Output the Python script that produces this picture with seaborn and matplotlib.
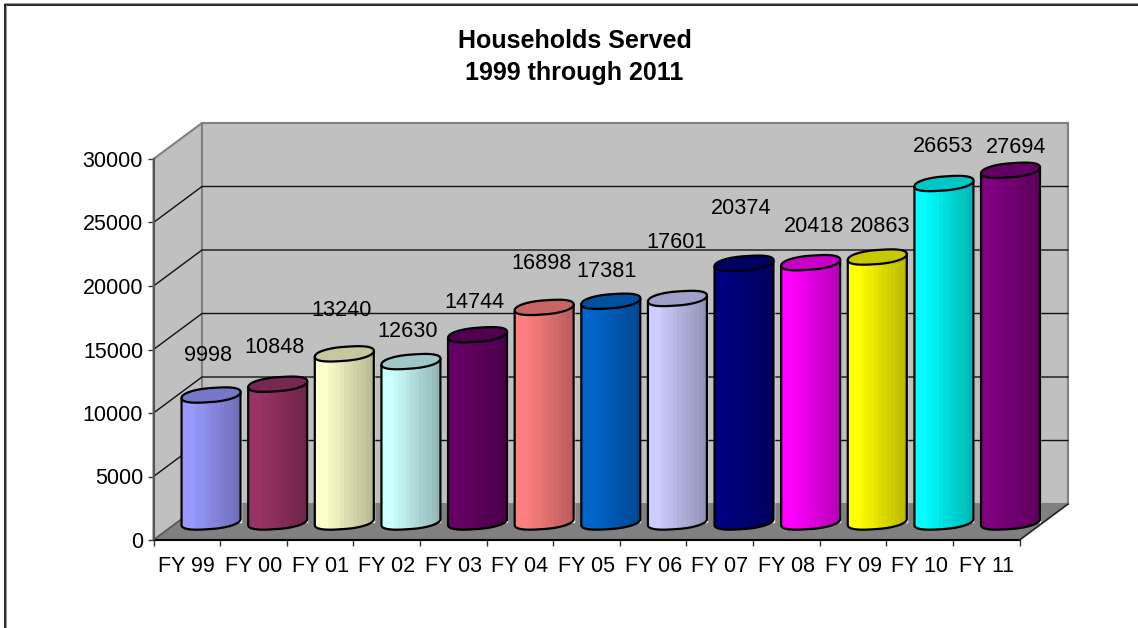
import numpy as np
import pandas as pd
import matplotlib
matplotlib.use("Agg")
import matplotlib.pyplot as plt
from matplotlib.lines import Line2D
from matplotlib.patches import Polygon
from matplotlib.colors import to_rgb
import seaborn as sns

sns.set_theme(style="white")
plt.rcParams["font.family"] = ["Liberation Sans", "DejaVu Sans"]

# --- data ---
years = ["FY 99", "FY 00", "FY 01", "FY 02", "FY 03", "FY 04", "FY 05",
         "FY 06", "FY 07", "FY 08", "FY 09", "FY 10", "FY 11"]
households = [9998, 10848, 13240, 12630, 14744, 16898, 17381,
              17601, 20374, 20418, 20863, 26653, 27694]
y_ticks = [0, 5000, 10000, 15000, 20000, 25000, 30000]

# --- styles ---
bar_colors = ["#9999FF", "#993366", "#FFFFCC", "#CCFFFF", "#660066", "#FF8080", "#0066CC",
              "#CCCCFF", "#000080", "#FF00FF", "#FFFF00", "#00FFFF", "#800080"]
band_shade = [1, 1, 1, .97, .95, .93, .90, .87, .85, .82, .80, .78, .75, .72]
# where Excel left each value label, in pixels from the top of its cylinder
label_dx = [-3, -3, -3, -3, -3, -3, -4, -1, -3, 3, 3, -1, 6]
label_dy = [40, 37, 43, 30, 32, 44, 30, 56, 55, 36, 31, 37, 23]

W, H = 1138, 628
LEFT, RIGHT, TOP, BOTTOM = 153.5, 1019.6, 159, 540   # front plane of the 3D box, px
DEPTH_X, DEPTH_Y = 48.5, 36                          # how far the back wall is shifted, px
Y_MAX = 30000

CAT_PX = (RIGHT - LEFT) / len(years)
VAL_PX = (BOTTOM - TOP) / Y_MAX
DX = DEPTH_X / CAT_PX            # depth in category units
DY = DEPTH_Y / VAL_PX            # depth in value units
BASE_PAD = 1000                  # room under the bars for the round base


def axes_box(left, right, top, bottom):
    return [left / W, 1 - bottom / H, (right - left) / W, (bottom - top) / H]


def cap_points(i, value, n=60, start=0.0, stop=2 * np.pi):
    # slightly squared, tilted ellipse, like the Excel cylinder ends
    t = np.linspace(start, stop, n)
    half_w = 29.5 / CAT_PX
    c, s = np.cos(t), np.sin(t)
    x = i + half_w * np.sign(c) * np.abs(c) ** 0.85
    y = value + (7.0 * np.sign(s) * np.abs(s) ** 0.9 + 3.0 * c) / VAL_PX
    return x, y


fig = plt.figure(figsize=(W / 100, H / 100), dpi=100, facecolor="white")

# --- box: walls, floor, gridlines ---
ax = fig.add_axes(axes_box(LEFT, RIGHT, TOP, BOTTOM))
ax.patch.set_visible(False)
ax.set_xlim(-0.5, len(years) - 0.5)
ax.set_ylim(0, Y_MAX)
x0, x1 = ax.get_xlim()

wall_gray, floor_gray = "#C0C0C0", "#808080"
ax.add_patch(Polygon([(x0, 0), (x0 + DX, DY), (x0 + DX, Y_MAX + DY), (x0, Y_MAX)],
                     fc=wall_gray, ec=floor_gray, lw=1.5, clip_on=False, zorder=1))
ax.add_patch(Polygon([(x0 + DX, DY), (x1 + DX, DY), (x1 + DX, Y_MAX + DY), (x0 + DX, Y_MAX + DY)],
                     fc=wall_gray, ec=floor_gray, lw=1.5, clip_on=False, zorder=1))
ax.add_patch(Polygon([(x0, 0), (x1, 0), (x1 + DX, DY), (x0 + DX, DY)],
                     fc=floor_gray, ec="none", clip_on=False, zorder=2))
for val in y_ticks[1:-1]:
    ax.plot([x0, x0 + DX, x1 + DX], [val, val + DY, val + DY], color="#111111", lw=1.0,
            clip_on=False, zorder=2)
ax.plot([x1, x1 + DX], [0, DY], color="#222222", lw=1.2, clip_on=False, zorder=3)
ax.plot([x0, x0 + DX], [0, DY], color="#555555", lw=1.0, clip_on=False, zorder=3)

ax.set_yticks(y_ticks)
ax.set_xticks(np.arange(len(years) + 1) - 0.5)
ax.set_xticklabels([])
ax.set_xticks(np.arange(len(years)), labels=years, minor=True)
ax.tick_params(axis="y", left=True, length=4, width=1, color="#333333", pad=3.5, labelsize=15.5, labelcolor="black")
ax.tick_params(axis="x", which="major", bottom=True, length=4.5, width=1, color="#333333")
ax.tick_params(axis="x", which="minor", bottom=False, pad=7.5, labelsize=15.5, labelcolor="black")
for side in ["top", "right"]:
    ax.spines[side].set_visible(False)
ax.spines["left"].set_color("#555555")
ax.spines["left"].set_linewidth(1.5)
ax.spines["bottom"].set_color("black")
ax.spines["bottom"].set_linewidth(1.5)
ax.set_zorder(1)

# --- cylinders sit half way into the box ---
bars_box = axes_box(LEFT + DEPTH_X / 2, RIGHT + DEPTH_X / 2,
                    TOP - DEPTH_Y / 2, BOTTOM - DEPTH_Y / 2 + BASE_PAD * VAL_PX)
ax_bars = fig.add_axes(bars_box)
ax_bars.set_zorder(2)
ax_bars.patch.set_visible(False)

df = pd.DataFrame({"year": years, "households": households})
sns.barplot(data=df, x="year", y="households", hue="year", order=years, hue_order=years,
            palette=dict(zip(years, bar_colors)), saturation=1, width=59 / CAT_PX,
            legend=False, ax=ax_bars)

half_w = 29.5 / CAT_PX
for i, (value, color) in enumerate(zip(households, bar_colors)):
    rgb = np.array(to_rgb(color))
    # body outline: down the left side, round the front of the base, up the right side
    bx, by = cap_points(i, 0, start=np.pi, stop=2 * np.pi)
    tx, ty = cap_points(i, value, n=2, start=0, stop=np.pi)
    body = Polygon(np.column_stack([np.r_[tx[1], bx, tx[0]], np.r_[ty[1], by, ty[0]]]),
                   fc="none", ec="black", lw=1.6, zorder=4, joinstyle="round")
    ax_bars.add_patch(body)

    bands = np.outer(np.array(band_shade), rgb)[np.newaxis, :, :]
    im = ax_bars.imshow(bands, extent=(i - half_w, i + half_w, -BASE_PAD, value + BASE_PAD),
                        aspect="auto", interpolation="nearest", zorder=3)
    im.set_clip_path(body)

    cx, cy = cap_points(i, value)
    ax_bars.add_patch(Polygon(np.column_stack([cx, cy]), fc=rgb * 0.78, ec="black", lw=1.6, zorder=5))

    ax_bars.annotate(str(value), (i, value),
                     xytext=(label_dx[i] * 0.72, label_dy[i] * 0.72), textcoords="offset points",
                     ha="center", va="center", fontsize=15.6, color="black", zorder=6,
                     annotation_clip=False)

ax_bars.set_xlim(-0.5, len(years) - 0.5)
ax_bars.set_ylim(-BASE_PAD, Y_MAX)
ax_bars.axis("off")

# --- title and the chart-area border ---
fig.text(574.5 / W, 1 - 41 / H, "Households Served", ha="center", va="center",
         fontsize=18, fontweight="bold", color="black")
fig.text(574.5 / W, 1 - 73 / H, "1999 through 2011", ha="center", va="center",
         fontsize=18, fontweight="bold", color="black")

fig.add_artist(Line2D([5 / W, 1], [1 - 4.5 / H, 1 - 4.5 / H], color="black", lw=1.2))
fig.add_artist(Line2D([5 / W, 5 / W], [0, 1 - 4.5 / H], color="black", lw=1.2))
fig.add_artist(Line2D([4 / W, 1], [1 - 3.3 / H, 1 - 3.3 / H], color="#999999", lw=0.8))
fig.add_artist(Line2D([6.3 / W, 6.3 / W], [0, 1 - 5 / H], color="#999999", lw=0.8))

fig.savefig("out.png", dpi=100)
